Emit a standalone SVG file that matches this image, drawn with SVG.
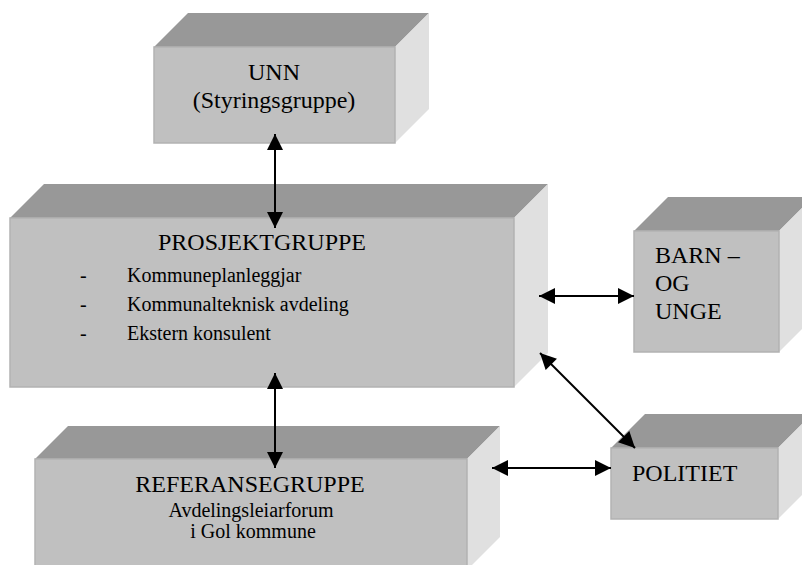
<svg xmlns="http://www.w3.org/2000/svg" width="802" height="565" viewBox="0 0 802 565">
<style>
.front{fill:#c0c0c0;stroke:#b2b2b2;stroke-width:1.5}
.top{fill:#989898}
.side{fill:#e0e0e0}
.t{font-family:"Liberation Serif","Times New Roman",serif;fill:#000}
.h{font-size:24px}
.s{font-size:20px}
.c{text-anchor:middle}
.conn{stroke:#000;stroke-width:2;fill:none;marker-start:url(#ah);marker-end:url(#ah)}
</style>
<defs>
<marker id="ah" markerUnits="userSpaceOnUse" markerWidth="18" markerHeight="18" refX="16" refY="8" orient="auto-start-reverse" overflow="visible">
<path d="M0,0 L16,8 L0,16 z" fill="#000"/>
</marker>
</defs>
<rect width="802" height="565" fill="#fff"/>

<g id="unn">
<polygon class="top" points="154,47 188,13 429,13 395,47"/>
<polygon class="side" points="395,47 429,13 429,109 395,143"/>
<rect class="front" x="154" y="47" width="241" height="96"/>
<text class="t h c" x="274" y="80">UNN</text>
<text class="t h c" x="274" y="108">(Styringsgruppe)</text>
</g>

<g id="prosjektgruppe">
<polygon class="top" points="10,218 44,184 548,184 514,218"/>
<polygon class="side" points="514,218 548,184 548,353 514,387"/>
<rect class="front" x="10" y="218" width="504" height="169"/>
<text class="t h c" x="262" y="250">PROSJEKTGRUPPE</text>
<text class="t s" x="80" y="282">-</text>
<text class="t s" x="127" y="282">Kommuneplanleggjar</text>
<text class="t s" x="80" y="311">-</text>
<text class="t s" x="127" y="311">Kommunalteknisk avdeling</text>
<text class="t s" x="80" y="340">-</text>
<text class="t s" x="127" y="340">Ekstern konsulent</text>
</g>

<g id="barn">
<polygon class="top" points="634,231 668,197 813,197 779,231"/>
<polygon class="side" points="779,231 813,197 813,318 779,352"/>
<rect class="front" x="634" y="231" width="145" height="121"/>
<text class="t h" x="655" y="263">BARN –</text>
<text class="t h" x="655" y="291">OG</text>
<text class="t h" x="655" y="319">UNGE</text>
</g>

<g id="referansegruppe">
<polygon class="top" points="35,459 68,426 500,426 467,459"/>
<polygon class="side" points="467,459 500,426 500,537 467,570"/>
<rect class="front" x="35" y="459" width="432" height="111"/>
<text class="t h c" x="250" y="492">REFERANSEGRUPPE</text>
<text class="t s c" x="251" y="517">Avdelingsleiarforum</text>
<text class="t s c" x="253" y="538">i Gol kommune</text>
</g>

<g id="politiet">
<polygon class="top" points="611,448 645,414 812,414 778,448"/>
<polygon class="side" points="778,448 812,414 812,485 778,519"/>
<rect class="front" x="611" y="448" width="167" height="71"/>
<text class="t h" x="632" y="481">POLITIET</text>
</g>

<g id="connectors">
<line class="conn" x1="275" y1="134" x2="275" y2="228"/>
<line class="conn" x1="275" y1="373" x2="275" y2="468"/>
<line class="conn" x1="539" y1="296" x2="634" y2="296"/>
<line class="conn" x1="540" y1="353" x2="635" y2="448"/>
<line class="conn" x1="492" y1="468" x2="611" y2="468"/>
</g>
</svg>
